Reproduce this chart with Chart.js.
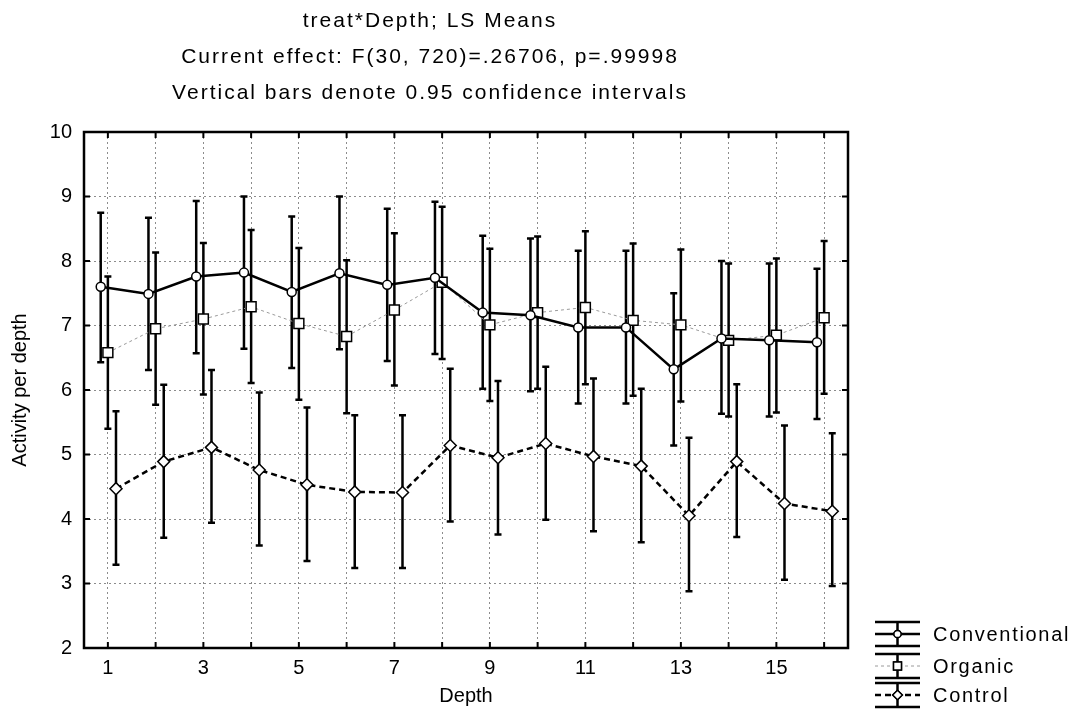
<!DOCTYPE html>
<html>
<head>
<meta charset="utf-8">
<script src="https://cdn.jsdelivr.net/npm/chart.js@4.4.1/dist/chart.umd.min.js"></script>
<style>
  html, body { margin: 0; background: #fff; }
  canvas { display: block; }
</style>
</head>
<body>
<canvas id="chart" width="1090" height="728"></canvas>
<script>
// treat*Depth LS means with 0.95 confidence intervals
const depths = [1, 2, 3, 4, 5, 6, 7, 8, 9, 10, 11, 12, 13, 14, 15, 16];

const convMean = [7.60, 7.49, 7.76, 7.82, 7.52, 7.81, 7.63, 7.74, 7.20, 7.16, 6.97, 6.97, 6.32, 6.80, 6.77, 6.74];
const convLow  = [6.43, 6.31, 6.57, 6.64, 6.34, 6.63, 6.45, 6.56, 6.02, 5.98, 5.79, 5.79, 5.14, 5.63, 5.59, 5.55];
const convHigh = [8.75, 8.67, 8.93, 9.00, 8.69, 9.00, 8.81, 8.92, 8.39, 8.35, 8.16, 8.16, 7.50, 8.00, 7.96, 7.88];

const orgMean = [6.58, 6.95, 7.10, 7.29, 7.03, 6.83, 7.24, 7.67, 7.01, 7.20, 7.28, 7.08, 7.01, 6.77, 6.85, 7.12];
const orgLow  = [5.40, 5.77, 5.93, 6.11, 5.85, 5.64, 6.07, 6.48, 5.83, 6.02, 6.09, 5.91, 5.82, 5.59, 5.65, 5.94];
const orgHigh = [7.76, 8.13, 8.28, 8.48, 8.20, 8.01, 8.43, 8.84, 8.19, 8.38, 8.46, 8.27, 8.18, 7.96, 8.04, 8.31];

const ctrlMean = [4.47, 4.89, 5.11, 4.76, 4.53, 4.42, 4.41, 5.14, 4.95, 5.17, 4.97, 4.82, 4.05, 4.89, 4.24, 4.12];
const ctrlLow  = [3.29, 3.71, 3.94, 3.59, 3.35, 3.24, 3.24, 3.96, 3.76, 3.99, 3.81, 3.64, 2.88, 3.72, 3.06, 2.96];
const ctrlHigh = [5.67, 6.08, 6.31, 5.96, 5.73, 5.61, 5.61, 6.33, 6.14, 6.36, 6.18, 6.02, 5.26, 6.09, 5.45, 5.33];

const titleLines = [
  "treat*Depth; LS Means",
  "Current effect: F(30, 720)=.26706, p=.99998",
  "Vertical bars denote 0.95 confidence intervals",
];
const yTicks = [2, 3, 4, 5, 6, 7, 8, 9, 10];

const FONT = '"Liberation Sans", Arial, sans-serif';

// each group is drawn slightly beside its depth tick
function series(label, mean, low, high, shift, style) {
  return Object.assign({
    label,
    data: mean.map((v, i) => ({ x: depths[i] + shift, y: v })),
    low, high,
    showLine: true,
    pointBackgroundColor: "#fff",
    pointBorderColor: "#000",
    pointBorderWidth: 1.5,
  }, style);
}

const datasets = [
  series("Conventional", convMean, convLow, convHigh, -0.15,
    { borderColor: "#000", borderWidth: 2.5, pointStyle: "circle", pointRadius: 4.5 }),
  series("Organic", orgMean, orgLow, orgHigh, 0,
    { borderColor: "#9a9a9a", borderWidth: 1, borderDash: [3, 3], pointStyle: "rect", pointRadius: 7 }),
  series("Control", ctrlMean, ctrlLow, ctrlHigh, 0.17,
    { borderColor: "#000", borderWidth: 2.5, borderDash: [6, 4], pointStyle: "rectRot", pointRadius: 6 }),
];

// ── confidence interval whiskers ─────────────────────────────────────
const whiskers = {
  id: "whiskers",
  beforeDatasetsDraw(chart) {
    const { ctx, scales: { y } } = chart;
    ctx.save();
    ctx.strokeStyle = "#000";
    ctx.lineWidth = 2.5;
    chart.data.datasets.forEach((ds, di) => {
      chart.getDatasetMeta(di).data.forEach((pt, i) => {
        const top = y.getPixelForValue(ds.high[i]), bot = y.getPixelForValue(ds.low[i]);
        ctx.beginPath();
        ctx.moveTo(pt.x, top); ctx.lineTo(pt.x, bot);
        ctx.moveTo(pt.x - 3.5, top); ctx.lineTo(pt.x + 3.5, top);
        ctx.moveTo(pt.x - 3.5, bot); ctx.lineTo(pt.x + 3.5, bot);
        ctx.stroke();
      });
    });
    ctx.restore();
  },
};

// ── frame with inward ticks, titles and legend ───────────────────────
const decor = {
  id: "decor",
  afterDraw(chart) {
    const { ctx, chartArea: a, scales: { x, y } } = chart;
    ctx.save();
    ctx.strokeStyle = "#000";
    ctx.lineWidth = 2.5;
    ctx.strokeRect(a.left, a.top, a.right - a.left, a.bottom - a.top);
    ctx.lineWidth = 2;
    ctx.beginPath();
    x.ticks.forEach(t => {
      const px = x.getPixelForValue(t.value);
      ctx.moveTo(px, a.bottom); ctx.lineTo(px, a.bottom - 6);
      ctx.moveTo(px, a.top); ctx.lineTo(px, a.top + 6);
    });
    y.ticks.forEach(t => {
      const py = y.getPixelForValue(t.value);
      ctx.moveTo(a.left, py); ctx.lineTo(a.left + 6, py);
      ctx.moveTo(a.right, py); ctx.lineTo(a.right - 6, py);
    });
    ctx.stroke();

    // titles
    ctx.fillStyle = "#000";
    ctx.font = `21px ${FONT}`;
    ctx.letterSpacing = "2px";
    ctx.textAlign = "center";
    ctx.textBaseline = "alphabetic";
    titleLines.forEach((t, i) => ctx.fillText(t, 430, 27 + i * 36));

    // legend
    const gx = 875, gw = 45, cx = gx + gw / 2;
    const rows = [634, 666, 695];
    ctx.font = `20px ${FONT}`;
    ctx.letterSpacing = "1.7px";
    ctx.textAlign = "left";
    ctx.textBaseline = "middle";
    chart.data.datasets.forEach((ds, i) => {
      const my = rows[i];
      const capT = my - 12, capB = my + 12;
      ctx.strokeStyle = "#000";
      ctx.setLineDash([]);
      ctx.lineWidth = 2.5;
      ctx.beginPath();
      ctx.moveTo(gx, capT); ctx.lineTo(gx + gw, capT);
      ctx.moveTo(gx, capB); ctx.lineTo(gx + gw, capB);
      ctx.moveTo(cx, capT); ctx.lineTo(cx, capB);
      ctx.stroke();
      ctx.strokeStyle = ds.borderColor;
      ctx.lineWidth = ds.borderWidth;
      ctx.setLineDash(ds.borderDash || []);
      ctx.beginPath();
      ctx.moveTo(gx, my); ctx.lineTo(gx + gw, my);
      ctx.stroke();
      ctx.setLineDash([]);
      ctx.fillStyle = "#fff";
      ctx.strokeStyle = "#000";
      ctx.lineWidth = 1.5;
      Chart.helpers.drawPoint(ctx, { pointStyle: ds.pointStyle, radius: ds.pointRadius * 0.8, rotation: 0, borderWidth: 1.5 }, cx, my);
      ctx.fill(); ctx.stroke();
      ctx.fillStyle = "#000";
      ctx.fillText(ds.label, 933, my + 1);
    });
    ctx.restore();
  },
};

new Chart(document.getElementById("chart"), {
  type: "scatter",
  data: { datasets },
  plugins: [whiskers, decor],
  options: {
    responsive: false,
    animation: false,
    layout: { padding: { top: 132, right: 242, left: 0, bottom: 0 } },
    plugins: { legend: { display: false }, title: { display: false }, tooltip: { enabled: false } },
    elements: { line: { tension: 0 } },
    scales: {
      x: {
        type: "linear", min: 0.5, max: 16.5,
        afterFit: s => { s.height = 80; },
        afterBuildTicks: s => { s.ticks = depths.map(v => ({ value: v })); },
        ticks: {
          autoSkip: false, maxRotation: 0, padding: 8,
          color: "#000", font: { family: FONT, size: 20 },
          callback: v => (v % 2 === 1 ? String(v) : ""),
        },
        grid: { color: "#8c8c8c", lineWidth: 1, drawTicks: false },
        border: { display: false, dash: [2, 3] },
        title: { display: true, text: "Depth", color: "#000", font: { family: FONT, size: 20 }, padding: { top: 0, bottom: 20 } },
      },
      y: {
        min: 2, max: 10,
        afterFit: s => { s.width = 84; },
        afterBuildTicks: s => { s.ticks = yTicks.map(v => ({ value: v })); },
        ticks: { padding: 12, color: "#000", font: { family: FONT, size: 20 } },
        grid: { color: "#8c8c8c", lineWidth: 1, drawTicks: false },
        border: { display: false, dash: [2, 3] },
        title: { display: true, text: "Activity per depth", color: "#000", font: { family: FONT, size: 20 }, padding: { top: 8, bottom: 0 } },
      },
    },
  },
});
</script>
</body>
</html>
